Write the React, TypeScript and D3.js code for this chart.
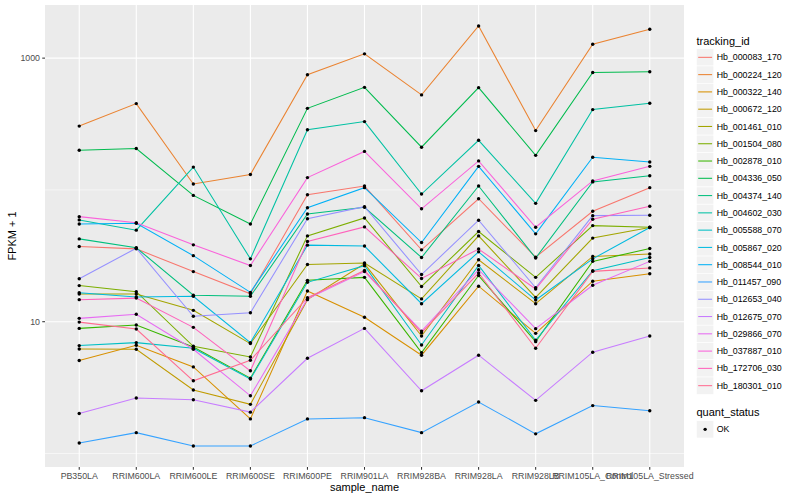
import { useEffect, useRef } from 'react'
import * as d3 from 'd3'

const samples = [
  "PB350LA", "RRIM600LA", "RRIM600LE", "RRIM600SE", "RRIM600PE", "RRIM901LA",
  "RRIM928BA", "RRIM928LA", "RRIM928LB", "RRIM105LA_Control", "RRIM105LA_Stressed",
]

const trackingIds = [
  "Hb_000083_170", "Hb_000224_120", "Hb_000322_140", "Hb_000672_120", "Hb_001461_010",
  "Hb_001504_080", "Hb_002878_010", "Hb_004336_050", "Hb_004374_140", "Hb_004602_030",
  "Hb_005588_070", "Hb_005867_020", "Hb_008544_010", "Hb_011457_090", "Hb_012653_040",
  "Hb_012675_070", "Hb_029866_070", "Hb_037887_010", "Hb_172706_030", "Hb_180301_010",
]

// FPKM + 1, one value per sample (same order as samples)
const hb000083_170 = [37.2, 35.7, 24.0, 16.3, 91.8, 107, 35.1, 85.7, 30.9, 68.8, 104]
const hb000224_120 = [305, 452, 111, 131, 748, 1078, 526, 1753, 282, 1276, 1656]
const hb000322_140 = [5.08, 6.62, 4.54, 1.83, 17.1, 10.8, 5.57, 18.6, 8.16, 20.3, 23.1]
const hb000672_120 = [6.21, 6.18, 3.03, 2.36, 14.7, 27.5, 7.79, 29.5, 13.7, 31.3, 32.6]
const hb001461_010 = [16.2, 16.2, 12.2, 6.82, 27.2, 27.9, 14.9, 44.8, 15.3, 43.1, 51.8]
const hb001504_080 = [18.8, 16.9, 6.51, 5.40, 44.8, 61.3, 18.5, 48.3, 21.7, 53.6, 52.1]
const hb002878_010 = [8.90, 9.43, 6.43, 3.73, 20.6, 21.7, 5.83, 22.4, 7.06, 28.7, 35.9]
const hb004336_050 = [200, 206, 90.9, 55.2, 416, 600, 211, 597, 183, 778, 788]
const hb004374_140 = [42.5, 36.4, 15.9, 15.6, 65.7, 73.8, 30.7, 107, 30.4, 115, 128]
const hb004602_030 = [59.2, 49.5, 149, 30.0, 286, 330, 93, 238, 79.1, 407, 454]
const hb005588_070 = [6.59, 6.94, 6.29, 3.67, 19.9, 26.6, 6.66, 26.7, 7.23, 24.4, 30.7]
const hb005867_020 = [16.6, 15.4, 15.6, 6.94, 38.1, 37.5, 13.7, 33.9, 14.6, 30.0, 51.8]
const hb008544_010 = [55.2, 55.8, 31.7, 16.7, 73.3, 104, 39.9, 151, 46.4, 177, 163]
const hb011457_090 = [1.20, 1.44, 1.14, 1.14, 1.83, 1.87, 1.44, 2.46, 1.41, 2.31, 2.11]
const hb012653_040 = [21.2, 36.1, 11.0, 11.7, 60.5, 74.6, 22.8, 58.9, 18.1, 63.8, 64.2]
const hb012675_070 = [2.01, 2.64, 2.56, 2.06, 5.28, 8.90, 2.99, 5.57, 2.53, 5.87, 7.79]
const hb029866_070 = [10.6, 11.4, 6.18, 2.74, 14.9, 24.0, 8.49, 24.8, 8.86, 18.9, 28.7]
const hb037887_010 = [62.7, 56.4, 38.3, 26.7, 124, 196, 71.9, 166, 52.1, 117, 151]
const hb172706_030 = [14.7, 15.1, 9.06, 4.24, 40.6, 52.4, 21.3, 35.6, 17.7, 59.9, 75.1]
const hb180301_010 = [9.93, 8.80, 3.56, 5.10, 15.2, 24.5, 8.26, 23.4, 6.29, 24.1, 25.6]

const seriesValues = [
  hb000083_170, hb000224_120, hb000322_140, hb000672_120, hb001461_010,
  hb001504_080, hb002878_010, hb004336_050, hb004374_140, hb004602_030,
  hb005588_070, hb005867_020, hb008544_010, hb011457_090, hb012653_040,
  hb012675_070, hb029866_070, hb037887_010, hb172706_030, hb180301_010,
]

// ggplot default hue palette for 20 levels
const palette = [
  "#F8766D", "#EA8331", "#D89000", "#C09B00", "#A3A500", "#7CAE00", "#39B600",
  "#00BB4E", "#00BF7D", "#00C1A3", "#00BFC4", "#00BAE0", "#00B0F6", "#35A2FF",
  "#9590FF", "#C77CFF", "#E76BF3", "#FA62DB", "#FF62BC", "#FF6C91",
]

const yTicks = [10, 1000]
const yMinor = [1, 100]
const quantStatus = ["OK"]

export default function App() {
  const svgRef = useRef<SVGSVGElement>(null)

  useEffect(() => {
    document.body.style.margin = "0"
    if (!svgRef.current) return
    const svg = d3.select(svgRef.current)
    svg.selectAll("*").remove()

    const font = "'Liberation Sans', Arial, Helvetica, sans-serif"
    const panel = { left: 45, right: 684, top: 5, bottom: 467 }

    // log scale with ggplot's 5% expansion
    const all = seriesValues.flat()
    const lo = Math.log10(d3.min(all)!)
    const hi = Math.log10(d3.max(all)!)
    const pad = (hi - lo) * 0.05
    const y = d3.scaleLog()
      .domain([10 ** (lo - pad), 10 ** (hi + pad)])
      .range([panel.bottom, panel.top])

    const x = d3.scalePoint<string>()
      .domain(samples)
      .range([panel.left, panel.right])
      .padding(0.6)

    // panel background
    svg.append("rect")
      .attr("x", panel.left)
      .attr("y", panel.top)
      .attr("width", panel.right - panel.left)
      .attr("height", panel.bottom - panel.top)
      .attr("fill", "#EBEBEB")

    const grid = svg.append("g")
    yMinor.forEach(v => {
      grid.append("line")
        .attr("x1", panel.left).attr("x2", panel.right)
        .attr("y1", y(v)).attr("y2", y(v))
        .attr("stroke", "white").attr("stroke-width", 0.55)
    })
    yTicks.forEach(v => {
      grid.append("line")
        .attr("x1", panel.left).attr("x2", panel.right)
        .attr("y1", y(v)).attr("y2", y(v))
        .attr("stroke", "white").attr("stroke-width", 1.1)
    })
    samples.forEach(s => {
      grid.append("line")
        .attr("x1", x(s)!).attr("x2", x(s)!)
        .attr("y1", panel.top).attr("y2", panel.bottom)
        .attr("stroke", "white").attr("stroke-width", 1.1)
    })

    // lines
    const line = d3.line<number>()
      .x((_, i) => x(samples[i])!)
      .y(d => y(d))

    const lines = svg.append("g")
    seriesValues.forEach((vals, k) => {
      lines.append("path")
        .attr("d", line(vals))
        .attr("fill", "none")
        .attr("stroke", palette[k])
        .attr("stroke-width", 1.05)
    })

    // points
    const pts = svg.append("g")
    seriesValues.forEach(vals => {
      vals.forEach((v, i) => {
        pts.append("circle")
          .attr("cx", x(samples[i])!)
          .attr("cy", y(v))
          .attr("r", 1.7)
          .attr("fill", "black")
      })
    })

    // y axis
    const yAxis = svg.append("g")
    yTicks.forEach(v => {
      yAxis.append("line")
        .attr("x1", panel.left - 2.75).attr("x2", panel.left)
        .attr("y1", y(v)).attr("y2", y(v))
        .attr("stroke", "#333333").attr("stroke-width", 1.05)
      yAxis.append("text")
        .attr("x", panel.left - 5)
        .attr("y", y(v) + 3.1)
        .attr("text-anchor", "end")
        .attr("font-family", font)
        .attr("font-size", 8.8)
        .attr("fill", "#4D4D4D")
        .text(String(v))
    })
    svg.append("text")
      .attr("transform", `translate(16, ${(panel.top + panel.bottom) / 2}) rotate(-90)`)
      .attr("text-anchor", "middle")
      .attr("font-family", font)
      .attr("font-size", 11)
      .attr("fill", "black")
      .text("FPKM + 1")

    // x axis
    const xAxis = svg.append("g")
    samples.forEach(s => {
      xAxis.append("line")
        .attr("x1", x(s)!).attr("x2", x(s)!)
        .attr("y1", panel.bottom).attr("y2", panel.bottom + 2.75)
        .attr("stroke", "#333333").attr("stroke-width", 1.05)
      xAxis.append("text")
        .attr("x", x(s)!)
        .attr("y", panel.bottom + 12)
        .attr("text-anchor", "middle")
        .attr("font-family", font)
        .attr("font-size", 8.8)
        .attr("fill", "#4D4D4D")
        .text(s)
    })
    svg.append("text")
      .attr("x", (panel.left + panel.right) / 2)
      .attr("y", 491)
      .attr("text-anchor", "middle")
      .attr("font-family", font)
      .attr("font-size", 11)
      .attr("fill", "black")
      .text("sample_name")

    // legend: tracking_id
    const key = 17.28
    const legend = svg.append("g").attr("transform", "translate(696.5, 0)")
    legend.append("text")
      .attr("x", 0).attr("y", 44.5)
      .attr("font-family", font).attr("font-size", 11)
      .text("tracking_id")
    trackingIds.forEach((id, i) => {
      const top = 48.7 + i * key
      legend.append("rect")
        .attr("x", 0).attr("y", top)
        .attr("width", key).attr("height", key)
        .attr("fill", "#F2F2F2").attr("stroke", "white").attr("stroke-width", 0.6)
      legend.append("line")
        .attr("x1", 1.7).attr("x2", key - 1.7)
        .attr("y1", top + key / 2).attr("y2", top + key / 2)
        .attr("stroke", palette[i]).attr("stroke-width", 1.05)
      legend.append("text")
        .attr("x", key + 2.9).attr("y", top + key / 2 + 3.1)
        .attr("font-family", font).attr("font-size", 8.8)
        .attr("fill", "black")
        .text(id)
    })

    // legend: quant_status
    legend.append("text")
      .attr("x", 0).attr("y", 416)
      .attr("font-family", font).attr("font-size", 11)
      .text("quant_status")
    quantStatus.forEach((q, i) => {
      const top = 420.7 + i * key
      legend.append("rect")
        .attr("x", 0).attr("y", top)
        .attr("width", key).attr("height", key)
        .attr("fill", "#F2F2F2").attr("stroke", "white").attr("stroke-width", 0.6)
      legend.append("circle")
        .attr("cx", key / 2).attr("cy", top + key / 2)
        .attr("r", 1.7).attr("fill", "black")
      legend.append("text")
        .attr("x", key + 2.9).attr("y", top + key / 2 + 3.1)
        .attr("font-family", font).attr("font-size", 8.8)
        .attr("fill", "black")
        .text(q)
    })
  }, [])

  return (
    <svg
      ref={svgRef}
      width={800}
      height={500}
      style={{ display: "block", background: "white" }}
    />
  )
}
